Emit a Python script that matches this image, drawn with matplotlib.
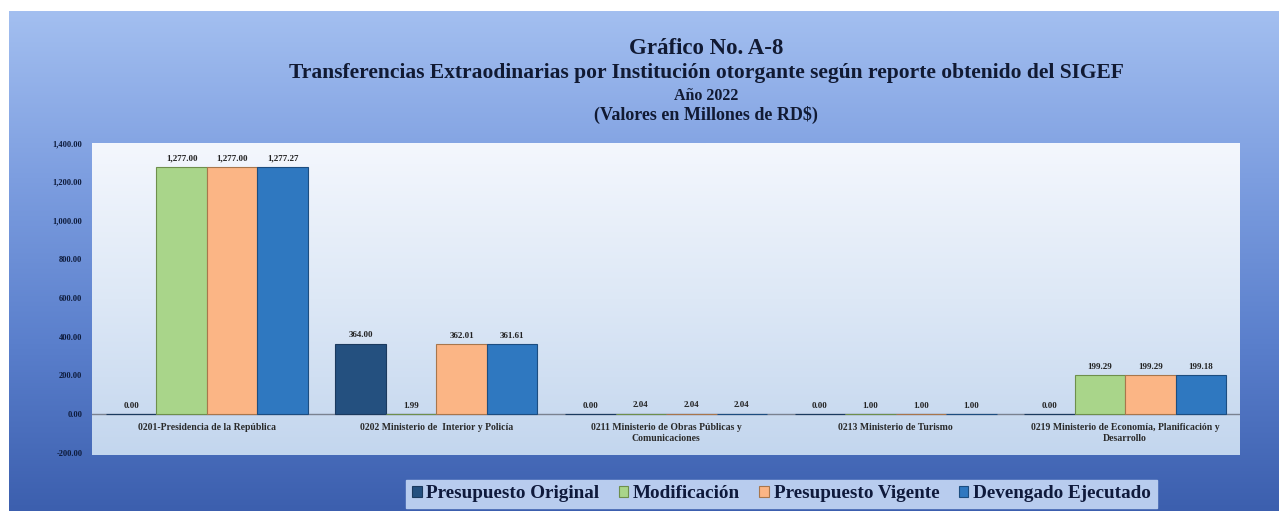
import numpy as np
import matplotlib
matplotlib.use("Agg")
import matplotlib.pyplot as plt
from matplotlib.colors import LinearSegmentedColormap

# ------------------------
# Data
# ------------------------
categories = [
    "0201-Presidencia de la República",
    "0202 Ministerio de  Interior y Policía",
    "0211 Ministerio de Obras Públicas y\nComunicaciones",
    "0213 Ministerio de Turismo",
    "0219 Ministerio de Economía, Planificación y\nDesarrollo",
]
series_names = ["Presupuesto Original", "Modificación", "Presupuesto Vigente", "Devengado Ejecutado"]
original = [0.00, 364.00, 0.00, 0.00, 0.00]
modificacion = [1277.00, -1.99, 2.04, 1.00, 199.29]
vigente = [1277.00, 362.01, 2.04, 1.00, 199.29]
devengado = [1277.27, 361.61, 2.04, 1.00, 199.18]
yticks = [-200, 0, 200, 400, 600, 800, 1000, 1200, 1400]

colors = ["#24507f", "#a9d58a", "#fbb585", "#2f78c0"]
edge = ["#1b3a5e", "#6e8f4c", "#a8764c", "#1c4d80"]
serif = ["Liberation Serif", "DejaVu Serif"]
navy = "#0d1a3a"

# ------------------------
# Figure and backgrounds
# ------------------------
fig = plt.figure(figsize=(12.79, 5.15), dpi=100)
fig.patch.set_facecolor("white")

bg = fig.add_axes([0.007, 0.008, 0.993, 0.97])
bg_cmap = LinearSegmentedColormap.from_list("bg", ["#a3bff0", "#7d9ee0", "#5a7fcc", "#3c5fae"])
bg.imshow(np.linspace(0, 1, 256).reshape(-1, 1), cmap=bg_cmap, aspect="auto", extent=[0, 1, 0, 1])
bg.set_axis_off()

ax = fig.add_axes([0.072, 0.1165, 0.8975, 0.6058])
pa_cmap = LinearSegmentedColormap.from_list("pa", ["#f4f7fd", "#dde8f6", "#c3d6ee"])
ax.imshow(np.linspace(0, 1, 256).reshape(-1, 1), cmap=pa_cmap, aspect="auto",
          extent=[0, 1, 0, 1], transform=ax.transAxes, zorder=0)

# ------------------------
# Bars
# ------------------------
x = np.arange(len(categories))
width = 0.22
all_series = [original, modificacion, vigente, devengado]
for i, vals in enumerate(all_series):
    pos = x + (i - 1.5) * width
    ax.bar(pos, vals, width, color=colors[i], edgecolor=edge[i], linewidth=0.8,
           label=series_names[i], zorder=3)
    for px, v in zip(pos, vals):
        ax.text(px, max(v, 0) + 22, f"{v:,.2f}".replace("-", ""), ha="center", va="bottom",
                fontsize=6.5, fontweight="bold", family=serif, color="#222222", zorder=4)

ax.axhline(0, color="#7a8290", linewidth=1.0, zorder=2)
for xi, cat in zip(x, categories):
    ax.text(xi, -48, cat, ha="center", va="top", fontsize=7, family=serif,
            fontweight="bold", color="#2a2a2a", linespacing=1.3, zorder=4)

ax.set_xlim(-0.5, len(categories) - 0.5)
ax.set_ylim(-212, 1400)
ax.set_xticks([])
ax.set_yticks(yticks)
ax.set_yticklabels([f"{t:,.2f}" for t in yticks], fontsize=6, fontweight="bold",
                   family=serif, color=navy)
ax.tick_params(axis="y", length=0, pad=7)
for s in ax.spines.values():
    s.set_visible(False)

# ------------------------
# Titles
# ------------------------
title_color = "#111a33"
fig.text(0.552, 0.905, "Gráfico No. A-8", ha="center", va="center", fontsize=16.5,
         fontweight="bold", family=serif, color=title_color)
fig.text(0.552, 0.858, "Transferencias Extraodinarias por Institución otorgante según reporte obtenido del SIGEF",
         ha="center", va="center", fontsize=15.5, fontweight="bold", family=serif, color=title_color)
fig.text(0.552, 0.814, "Año 2022", ha="center", va="center", fontsize=11.5,
         fontweight="bold", family=serif, color=title_color)
fig.text(0.552, 0.776, "(Valores en Millones de RD$)", ha="center", va="center", fontsize=13,
         fontweight="bold", family=serif, color=title_color)

# ------------------------
# Legend
# ------------------------
leg = fig.legend(loc="center", bbox_to_anchor=(0.611, 0.041), ncol=4, frameon=True,
                 prop={"family": serif, "weight": "bold", "size": 13.8},
                 handlelength=0.5, handleheight=0.5, handletextpad=0.25, columnspacing=1.0,
                 borderpad=0.3, fancybox=False)
leg.get_frame().set_facecolor("#b8ccee")
leg.get_frame().set_edgecolor("#b8ccee")
leg.get_frame().set_alpha(1)
for t in leg.get_texts():
    t.set_color("#0f1a3c")

fig.savefig("out.png", dpi=100)
